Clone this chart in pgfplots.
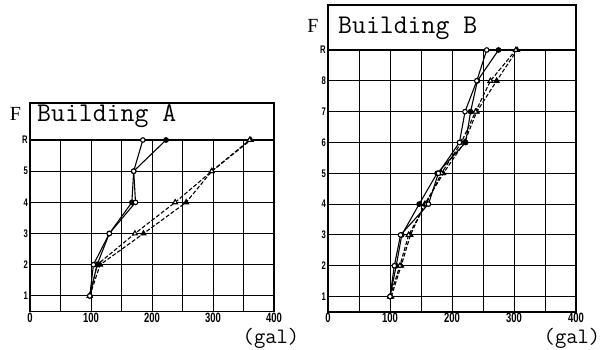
\documentclass[border=0pt]{standalone}
\usepackage{fontspec}
\usepackage{pgfplots}
\usepackage{pgfplotstable}
\pgfplotsset{compat=1.18}
\setmainfont{Liberation Sans}
\newfontfamily\seriffont{Liberation Serif}

\pgfplotstableread{
f oc fc ot ft
1 98 98 98 98
2 104 110 110 115
3 130 130 172 186
4 173 167 238 256
5 170 170 298 298
6 185 223 360 362
}\dataA

\pgfplotstableread{
f oc fc ot ft
1 100 100 100 102
2 107 110 116 118
3 117 119 130 133
4 162 147 158 156
5 178 176 183 186
6 212 222 215 220
7 221 230 238 240
8 240 241 262 272
9 256 275 303 305
}\dataB

\newcommand{\tl}[1]{\scalebox{0.7}[1]{#1}}

\pgfplotsset{
  bldg/.style={
    anchor=south west, scale only axis,
    xmin=0, xmax=400, ymin=0.5,
    xtick={0,100,...,400}, minor xtick={50,150,250,350},
    xticklabels={\tl{0},\tl{100},\tl{200},\tl{300},\tl{400}},
    grid=both,
    major grid style={black, line width=0.9pt},
    minor grid style={black, line width=0.9pt},
    major tick length=0pt, minor tick length=0pt,
    axis line style={black, line width=1.1pt},
    clip=false,
    xticklabel style={font=\bfseries\fontsize{13.5}{13.5}\selectfont, inner sep=1pt},
    yticklabel style={font=\bfseries\fontsize{11}{11}\selectfont, inner sep=2pt},
  },
  sA/.style={black, line width=1.1pt, mark=*, mark size=2.3pt, mark options={solid, fill=white}},
  sB/.style={black, line width=1.1pt, mark=*, mark size=2.3pt, mark options={solid, fill=black}},
  sC/.style={black, line width=1.1pt, dash pattern=on 4pt off 2pt, mark=triangle*, mark size=2.8pt, mark options={solid, fill=white}},
  sD/.style={black, line width=1.1pt, dash pattern=on 4pt off 2pt, mark=triangle*, mark size=2.8pt, mark options={solid, fill=black}},
}

\begin{document}
\begin{tikzpicture}
\useasboundingbox (0,0) rectangle (603pt,349pt);

\begin{axis}[bldg, name=A, at={(30pt,37.5pt)}, width=244pt, height=171.5pt, ymax=6,
  ytick={1,...,6}, yticklabels={\tl{1},\tl{2},\tl{3},\tl{4},\tl{5},\tl{R}}]
\addplot[sD] table[x=ft, y=f] {\dataA};
\addplot[sC] table[x=ot, y=f] {\dataA};
\addplot[sB] table[x=fc, y=f] {\dataA};
\addplot[sA] table[x=oc, y=f] {\dataA};
\end{axis}
\draw[line width=1.1pt] (A.north west) -- ++(0,37pt) -| (A.north east);
\node[anchor=west, inner sep=0pt, font=\ttfamily\fontsize{27}{27}\selectfont]
  at ([xshift=7pt, yshift=24pt]A.north west) {Building A};

\begin{axis}[bldg, name=B, at={(328pt,37pt)}, width=248pt, height=262pt, ymax=9,
  ytick={1,...,9}, yticklabels={\tl{1},\tl{2},\tl{3},\tl{4},\tl{5},\tl{6},\tl{7},\tl{8},\tl{R}}]
\addplot[sD] table[x=ft, y=f] {\dataB};
\addplot[sC] table[x=ot, y=f] {\dataB};
\addplot[sB] table[x=fc, y=f] {\dataB};
\addplot[sA] table[x=oc, y=f] {\dataB};
\end{axis}
\draw[line width=1.1pt] (B.north west) -- ++(0,45pt) -| (B.north east);
\node[anchor=west, inner sep=0pt, font=\ttfamily\fontsize{27}{27}\selectfont]
  at ([xshift=10pt, yshift=22pt]B.north west) {Building B};

\node[font=\seriffont\fontsize{20}{20}\selectfont] at (15.5pt,235pt) {F};
\node[font=\seriffont\fontsize{20}{20}\selectfont] at (313pt,323pt) {F};
\node[inner sep=0pt, font=\ttfamily\fontsize{22}{22}\selectfont] at (271pt,10.5pt) {(gal)};
\node[inner sep=0pt, font=\ttfamily\fontsize{22}{22}\selectfont] at (572pt,10.5pt) {(gal)};
\end{tikzpicture}
\end{document}
